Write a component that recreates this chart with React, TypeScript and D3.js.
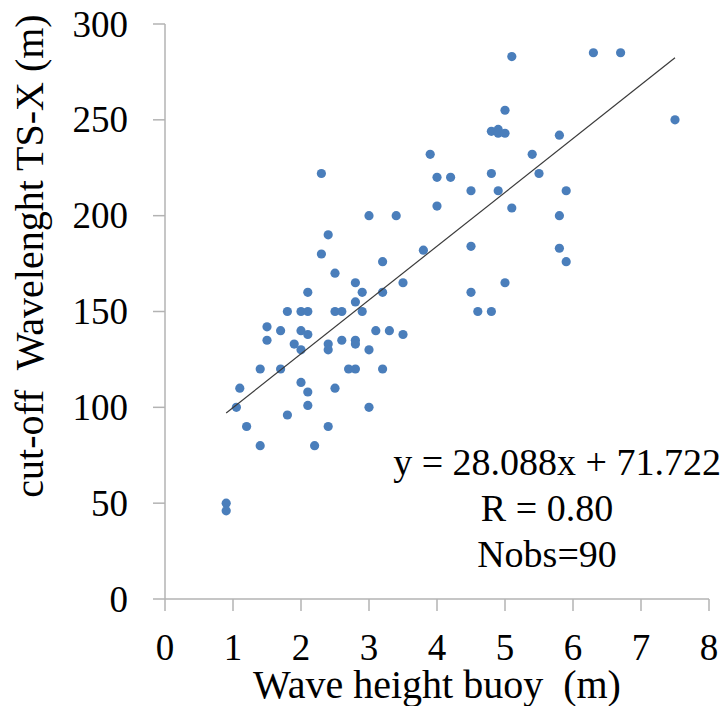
import React from "react";
import * as d3 from "d3";

const waveHeight = [
  0.9, 0.9, 1.05, 1.1, 1.2, 1.4, 1.4, 1.5, 1.5, 1.7, 1.7, 1.8, 1.8, 1.9,
  2.0, 2.0, 2.0, 2.0, 2.1, 2.1, 2.1, 2.1, 2.1, 2.2, 2.3, 2.3, 2.4, 2.4,
  2.4, 2.4, 2.5, 2.5, 2.5, 2.6, 2.6, 2.7, 2.8, 2.8, 2.8, 2.8, 2.8, 2.9,
  2.9, 3.0, 3.0, 3.0, 3.1, 3.2, 3.2, 3.2, 3.3, 3.4, 3.5, 3.5, 3.8, 3.9,
  4.0, 4.0, 4.2, 4.5, 4.5, 4.5, 4.6, 4.8, 4.8, 4.8, 4.9, 4.9, 4.9, 5.0,
  5.0, 5.0, 5.1, 5.1, 5.4, 5.5, 5.8, 5.8, 5.8, 5.9, 5.9, 6.3, 6.7, 7.5,
];
const cutoffWavelength = [
  50, 46, 100, 110, 90, 80, 120, 142, 135, 140, 120, 150, 96, 133,
  150, 140, 130, 113, 160, 150, 138, 108, 101, 80, 222, 180, 190, 133,
  130, 90, 170, 150, 110, 150, 135, 120, 165, 155, 135, 133, 120, 160,
  150, 200, 130, 100, 140, 176, 160, 120, 140, 200, 165, 138, 182, 232,
  220, 205, 220, 213, 184, 160, 150, 244, 222, 150, 245, 243, 213, 255,
  243, 165, 283, 204, 232, 222, 242, 200, 183, 213, 176, 285, 285, 250,
];
const xTicks = [0, 1, 2, 3, 4, 5, 6, 7, 8];
const yTicks = [0, 50, 100, 150, 200, 250, 300];
const slope = 28.088;
const intercept = 71.722;
const equationText = "y = 28.088x + 71.722";
const rText = "R = 0.80";
const nobsText = "Nobs=90";
const xTitle = "Wave height buoy  (m)";
const yTitle = "cut-off  Wavelenght TS-X (m)";

const FONT = "'Liberation Serif', 'Times New Roman', serif";

export default function App() {
  const x = d3.scaleLinear().domain([0, 8]).range([165, 709]);
  const y = d3.scaleLinear().domain([0, 300]).range([599, 24]);
  const axisColor = "#b3b3b3";
  const xMinFit = d3.min(waveHeight) as number;
  const xMaxFit = d3.max(waveHeight) as number;
  const fitLine = d3.line<number>()
    .x((d) => x(d))
    .y((d) => y(slope * d + intercept));
  const tickFs = 37;
  return (
    <svg
      width={726}
      height={706}
      style={{ position: "absolute", left: 0, top: 0, background: "#fff" }}
      fontFamily={FONT}
    >
      {/* axes */}
      <line x1={x(0)} x2={x(0)} y1={y(300)} y2={y(0)} stroke={axisColor} strokeWidth={1.5} />
      <line x1={x(0)} x2={x(8)} y1={y(0)} y2={y(0)} stroke={axisColor} strokeWidth={1.5} />
      {yTicks.map((t) => (
        <g key={"y" + t}>
          <line x1={x(0) - 12} x2={x(0)} y1={y(t)} y2={y(t)} stroke={axisColor} strokeWidth={1.5} />
          <text x={128} y={y(t) + tickFs * 0.34} textAnchor="end" fontSize={tickFs} fill="#000">
            {t}
          </text>
        </g>
      ))}
      {xTicks.map((t) => (
        <g key={"x" + t}>
          <line x1={x(t)} x2={x(t)} y1={y(0)} y2={y(0) + 12} stroke={axisColor} strokeWidth={1.5} />
          <text x={x(t)} y={660} textAnchor="middle" fontSize={tickFs} fill="#000">
            {t}
          </text>
        </g>
      ))}
      {/* points */}
      {waveHeight.map((w, i) => (
        <circle key={i} cx={x(w)} cy={y(cutoffWavelength[i])} r={4.6} fill="#4a7ebb" />
      ))}
      {/* trend line */}
      <path d={fitLine([xMinFit, xMaxFit]) || ""} stroke="#3a3a3a" strokeWidth={1.2} fill="none" />
      {/* annotation */}
      <text x={721} y={475} textAnchor="end" fontSize={38} fill="#000">{equationText}</text>
      <text x={547} y={521} textAnchor="middle" fontSize={38} fill="#000">{rText}</text>
      <text x={547} y={567} textAnchor="middle" fontSize={38} fill="#000">{nobsText}</text>
      {/* titles */}
      <text x={437} y={698} textAnchor="middle" fontSize={40} fill="#000" style={{ whiteSpace: "pre" }}>
        {xTitle}
      </text>
      <text
        transform="translate(43,256) rotate(-90)"
        textAnchor="middle"
        fontSize={40}
        fill="#000"
        style={{ whiteSpace: "pre" }}
      >
        {yTitle}
      </text>
    </svg>
  );
}
